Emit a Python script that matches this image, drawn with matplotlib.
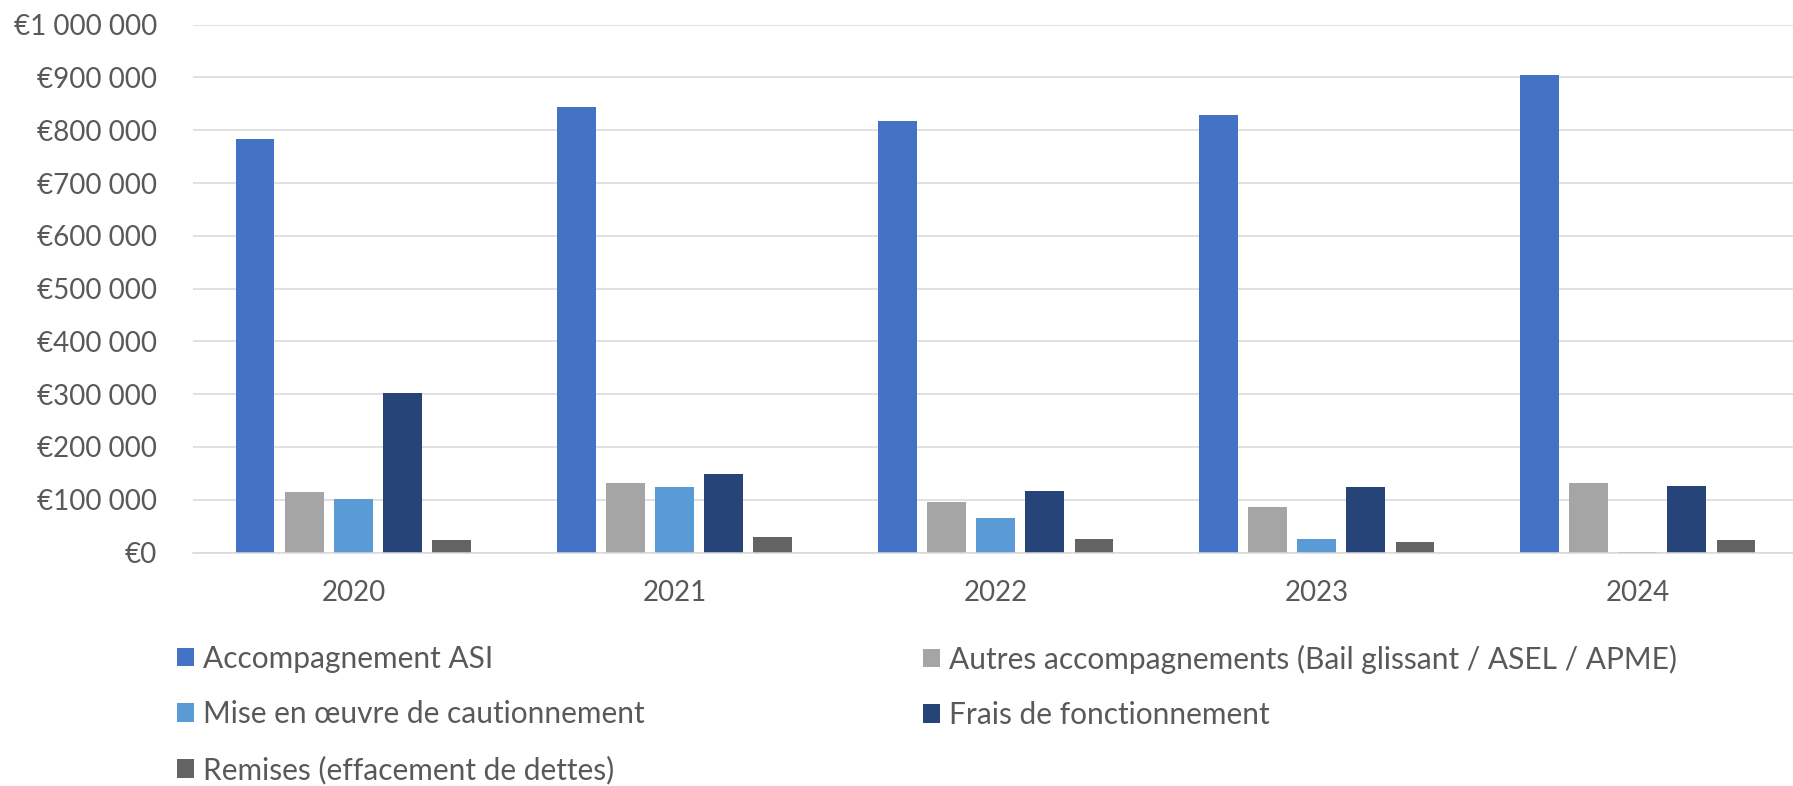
import numpy as np
import matplotlib.pyplot as plt
from matplotlib.ticker import FuncFormatter

plt.rcParams['font.family'] = ['Lato', 'DejaVu Sans']

years = ['2020', '2021', '2022', '2023', '2024']

# montants par poste (en euros)
asi = [783000, 844000, 818000, 828000, 905000]
autres = [114000, 132000, 95000, 87000, 131000]
caution = [101000, 125000, 66000, 26000, 800]
frais = [302000, 149000, 116000, 125000, 127000]
remises = [24000, 30000, 26000, 20000, 24000]

labels = [
    'Accompagnement ASI',
    'Autres accompagnements (Bail glissant / ASEL / APME)',
    'Mise en œuvre de cautionnement',
    'Frais de fonctionnement',
    'Remises (effacement de dettes)',
]
colors = ['#4472C4', '#A5A5A5', '#5B9BD5', '#264478', '#636363']
series = [asi, autres, caution, frais, remises]

fig = plt.figure(figsize=(17.93, 7.86), dpi=100)
ax = fig.add_axes([0.1076, 0.297, 0.8924, 0.6716])

x = np.arange(len(years))
width = 0.12
step = 0.153
bars = []
for i, (vals, lab, col) in enumerate(zip(series, labels, colors)):
    b = ax.bar(x + (i - 2) * step, vals, width, color=col, label=lab, zorder=2)
    bars.append(b)

ax.set_xlim(-0.5, 4.484)
ax.set_ylim(0, 1000000)
ax.set_yticks(np.arange(0, 1000001, 100000))
ax.yaxis.set_major_formatter(FuncFormatter(lambda v, p: '€' + f'{int(v):,}'.replace(',', ' ')))
ax.set_xticks(x)
ax.set_xticklabels(years)

ax.grid(axis='y', color='#D9D9D9', linewidth=1.1, zorder=0)
for s in ['top', 'right', 'left']:
    ax.spines[s].set_visible(False)
ax.spines['bottom'].set_color('#D9D9D9')
ax.spines['bottom'].set_linewidth(1.1)
ax.tick_params(axis='both', length=0, labelsize=20, labelcolor='#595959')
ax.tick_params(axis='y', pad=26)
ax.tick_params(axis='x', pad=19.5)

# légende sur deux colonnes
leg_kw = dict(loc='upper left', frameon=False, fontsize=21.5, borderpad=0, borderaxespad=0,
              handlelength=0.57, handleheight=0.57, handletextpad=0.29, labelspacing=0.92,
              labelcolor='#595959')
fig.legend([bars[0], bars[2], bars[4]], [labels[0], labels[2], labels[4]],
           bbox_to_anchor=(177 / 1793, 0.180), **leg_kw)
fig.legend([bars[1], bars[3]], [labels[1], labels[3]],
           bbox_to_anchor=(923 / 1793, 0.180), **leg_kw)

plt.savefig('out.png', dpi=100)
